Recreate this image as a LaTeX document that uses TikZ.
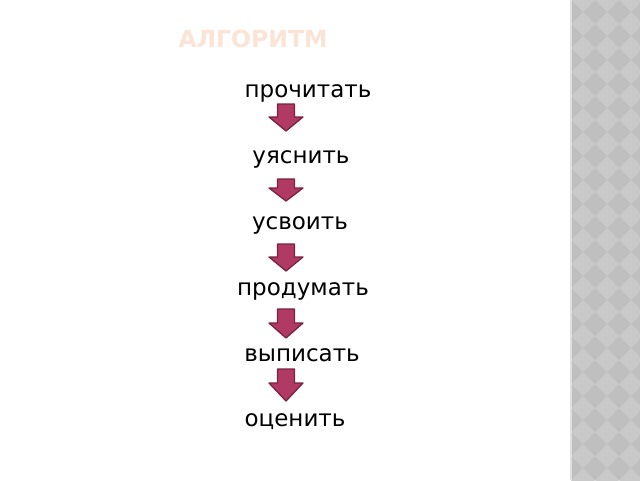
\documentclass[tikz,border=0pt]{standalone}
\usepackage{fontspec}
\setmainfont{DejaVu Sans}
\definecolor{arrowfill}{RGB}{176,58,100}
\definecolor{arrowline}{RGB}{122,34,64}
\definecolor{titlepeach}{RGB}{251,228,213}
\definecolor{stripgray}{RGB}{191,191,191}
\definecolor{stripdiamond}{RGB}{201,201,201}
\tikzset{
  pics/downblock/.style n args={3}{code={
    \draw[blockarrow] (-8.5,#1) -- (8.5,#1) -- (8.5,#2) -- (17,#2) -- (0,#3) -- (-17,#2) -- (-8.5,#2) -- cycle;
  }}
}
\begin{document}
\begin{tikzpicture}[x=1pt, y=-1pt,
    word/.style={font=\fontsize{23}{27}\selectfont, anchor=base},
    blockarrow/.style={fill=arrowfill, draw=arrowline, line width=1.3pt, line join=round}]
    \useasboundingbox (0,0) rectangle (640,480);
    \fill[white] (0,0) rectangle (640,480);

    % Right strip with diamonds
    \fill[stripgray] (571,0) rectangle (640,480);
    \begin{scope}
        \clip (571,0) rectangle (640,480);
        \foreach \i in {0,...,3} {
            \foreach \j in {0,...,20} {
                \fill[stripdiamond] (583+24*\i,24*\j-12) -- ++(12,12) -- ++(-12,12) -- ++(-12,-12) -- cycle;
            }
        }
    \end{scope}
    \draw[gray!25, line width=1.5pt] (571,0) -- (571,480);

    % Title
    \node[font=\fontsize{23.5}{28}\selectfont\bfseries, text=titlepeach, anchor=base] (title) at (253,47) {АЛГОРИТМ};

    % Steps
    \node[word] (read) at (308,97) {прочитать};
    \node[word] (clarify) at (301,163) {уяснить};
    \node[word] (learn) at (300,229) {усвоить};
    \node[word] (think) at (303,295) {продумать};
    \node[word] (write) at (302,361) {выписать};
    \node[word] (rate) at (295,426) {оценить};

    % Block arrows between steps
    \pic at (286,0) {downblock={104}{117}{131}};
    \pic at (286,0) {downblock={179}{188}{201}};
    \pic at (286,0) {downblock={244}{257}{271}};
    \pic at (286,0) {downblock={309}{323}{338}};
    \pic at (286,0) {downblock={369}{383}{401}};
\end{tikzpicture}
\end{document}
